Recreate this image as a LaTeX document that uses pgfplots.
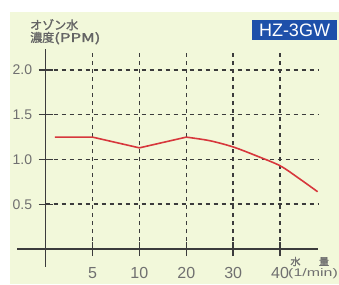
\documentclass[border=0pt]{standalone}
\usepackage{pgfplots}
\pgfplotsset{compat=1.18}
\usepackage{fontspec}
\setmainfont{Liberation Sans}
\newfontfamily\jp{Noto Sans CJK JP}[FakeBold=1.5]
\definecolor{bg}{RGB}{242,248,218}
\definecolor{txt}{RGB}{112,112,112}
\definecolor{jtxt}{RGB}{100,100,100}
\definecolor{axc}{RGB}{60,60,60}
\definecolor{redl}{RGB}{215,55,60}
\definecolor{boxb}{RGB}{30,80,170}
\begin{document}
\begin{tikzpicture}
\path[use as bounding box] (-45.6pt,-35pt) rectangle (293.4pt,249pt);
\fill[white] (-45.6pt,-35pt) rectangle (293.4pt,249pt);
\fill[bg] (-35.6pt,-35pt) rectangle (293.4pt,237pt);
\begin{axis}[
  anchor=origin, at={(0pt,0pt)},
  scale only axis, width=300.6pt, height=218.4pt,
  xmin=-0.6, xmax=5.81, ymin=-0.2, ymax=2.24,
  axis lines=middle, axis line style={-, axc, line width=1.7pt},
  clip=false,
  xtick={1,2,3,4,5}, xticklabels={5,10,20,30,40},
  ytick={0.5,1,1.5,2}, yticklabels={0.5,1.0,1.5,2.0},
  tick align=center, major tick length=14pt,
  tick style={axc, line width=1.4pt},
  xticklabel style={txt, font=\fontsize{16}{16}\selectfont, anchor=center, yshift=-17pt},
  yticklabel style={txt, font=\fontsize{14}{14}\selectfont, anchor=east, xshift=-3pt},
]
\pgfplotsinvokeforeach{0.5,1,1.5,2}{
  \draw[axc, line width=1.5pt, dash pattern=on 4pt off 4pt] (axis cs:0,#1) -- (axis cs:5.81,#1);
}
\pgfplotsinvokeforeach{1,2,3,4,5}{
  \draw[axc, line width=1.5pt, dash pattern=on 4pt off 4pt] (axis cs:#1,0) -- (axis cs:#1,2.21);
}
\addplot[redl, line width=1.6pt] coordinates {(0.2,1.25) (1,1.25) (2,1.13) (3,1.25)};
\addplot[redl, line width=1.6pt, smooth] coordinates {(3,1.25) (3.5,1.21) (4,1.14) (4.5,1.04) (5,0.93) (5.4,0.79) (5.8,0.64)};
\end{axis}
\node[anchor=north west, align=left, jtxt, font=\jp\fontsize{12}{12.5}\selectfont, inner sep=0pt] at (-15.6pt,230pt) {オゾン水\\濃度\scalebox{1.4}[1]{(PPM)}};
\node[fill=boxb, text=white, minimum width=85pt, minimum height=20pt, inner sep=0pt, font=\fontsize{18}{18}\selectfont] at (248.9pt,219pt) {HZ-3GW};
\node[txt, font=\jp\fontsize{10}{10}\selectfont, inner sep=0pt] at (249.9pt,-12.5pt) {水};
\node[txt, font=\jp\fontsize{10}{10}\selectfont, inner sep=0pt] at (278.4pt,-12.5pt) {量};
\node[txt, font=\fontsize{11}{11}\selectfont, inner sep=0pt] at (267.4pt,-24.5pt) {\scalebox{1.45}[1]{(1/min)}};
\end{tikzpicture}
\end{document}
